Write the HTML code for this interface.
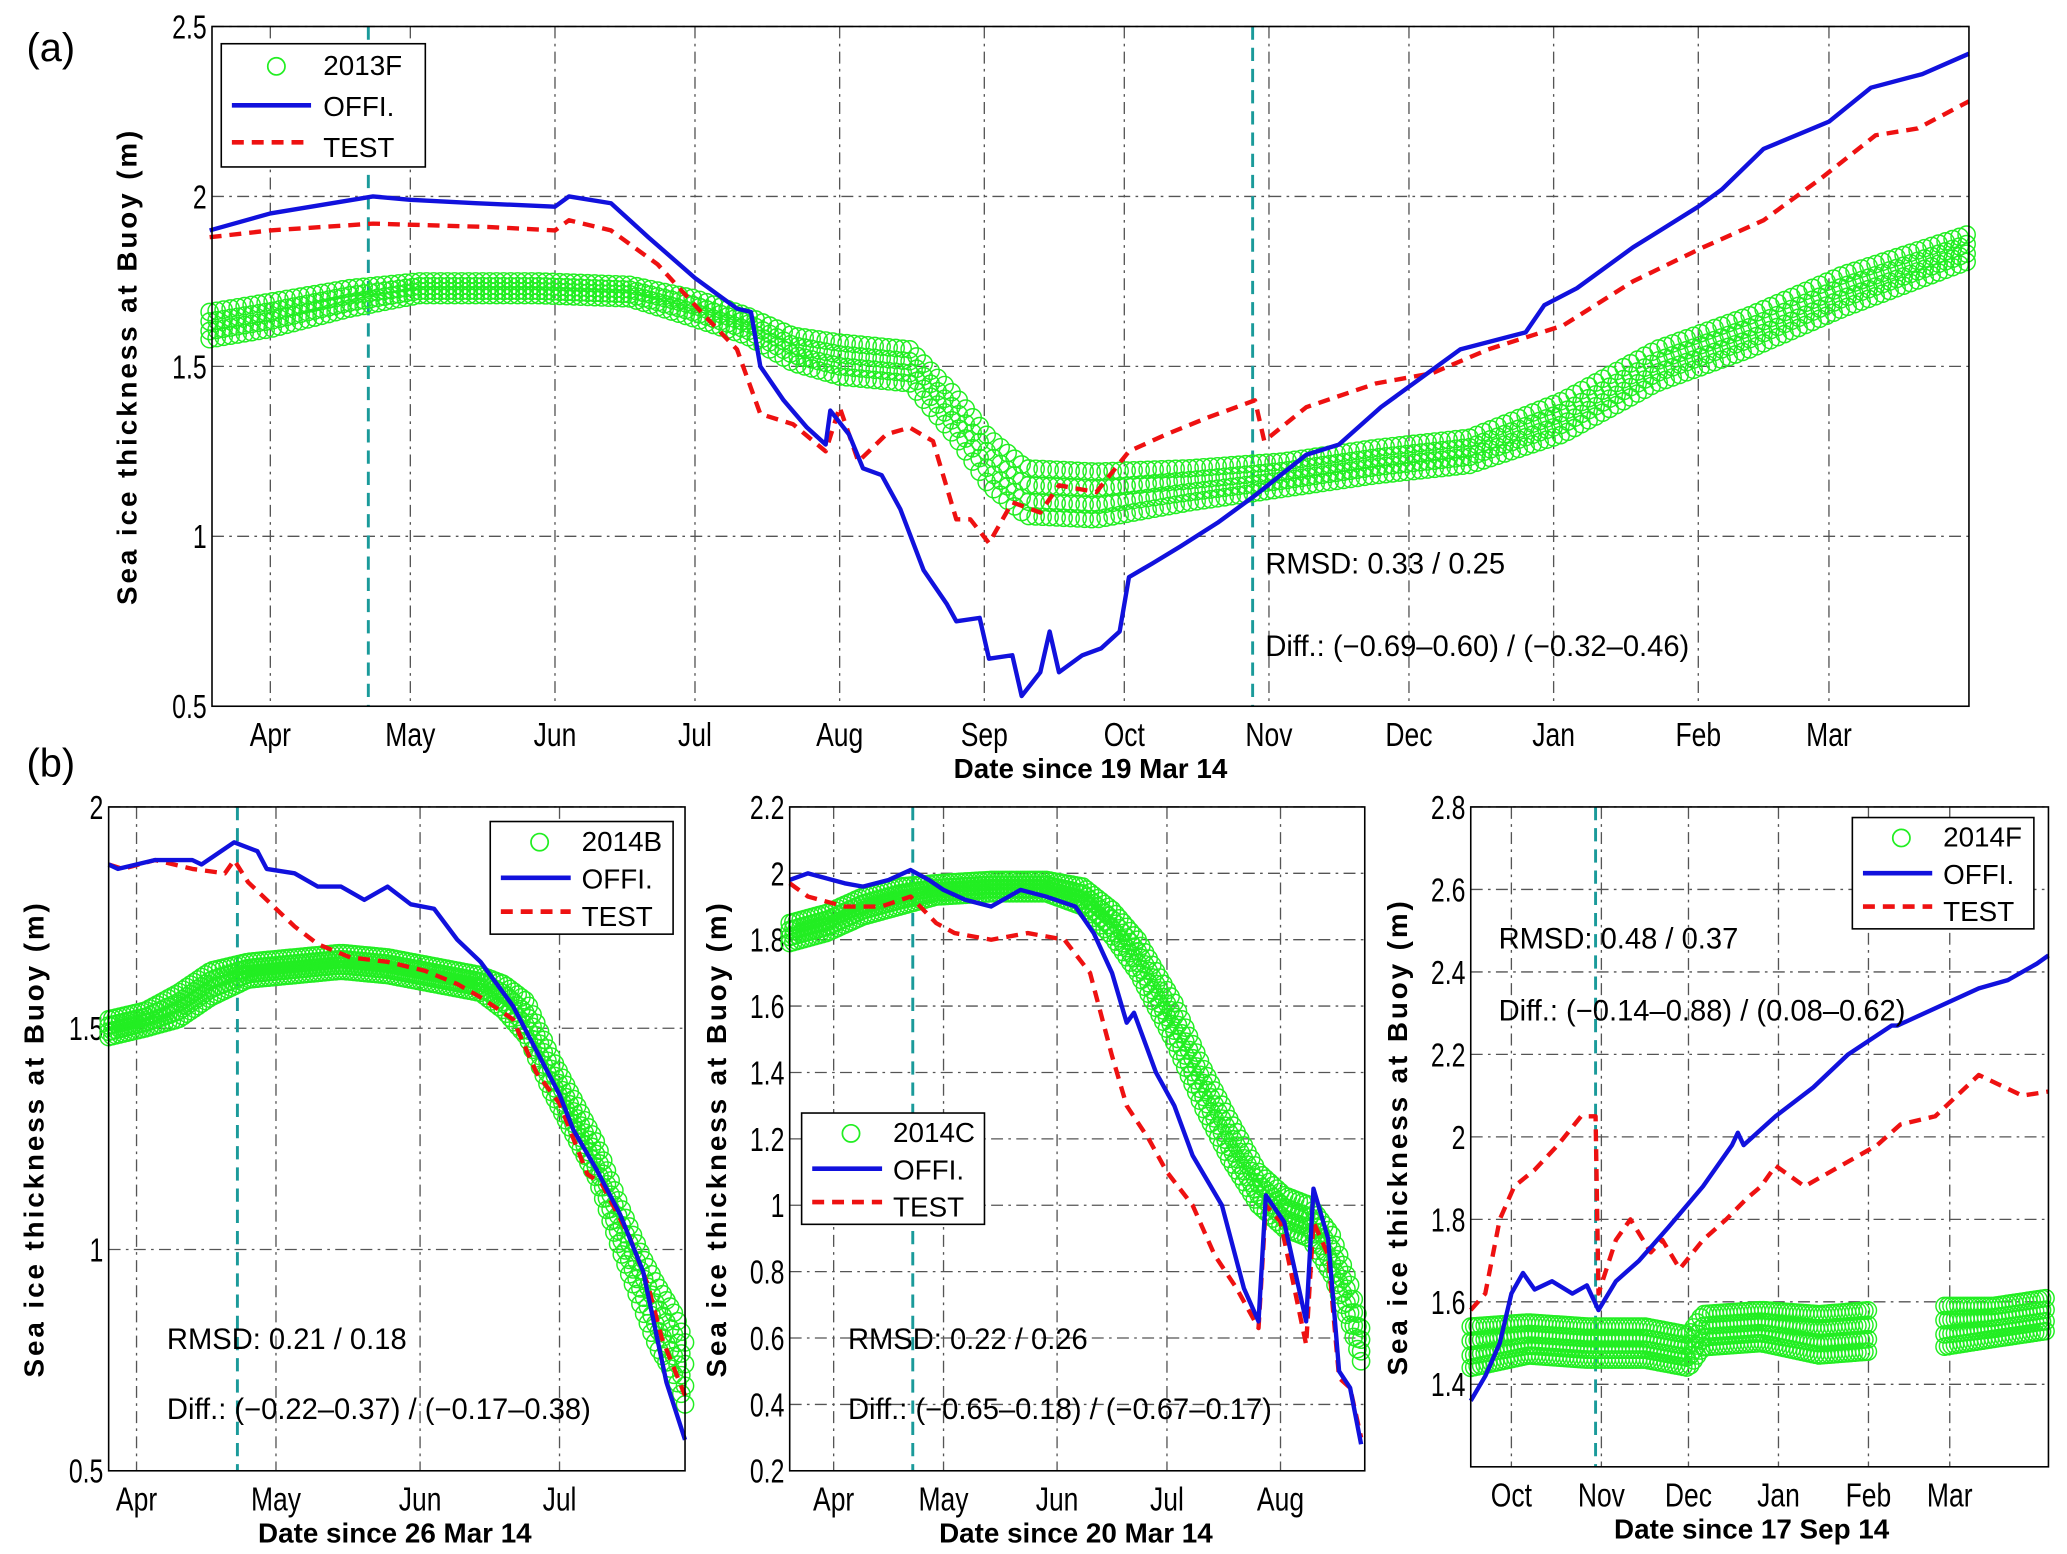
<!DOCTYPE html>
<html><head><meta charset="utf-8">
<style>
html,body{margin:0;padding:0;background:#fff;}
svg{display:block;}
text{font-family:"Liberation Sans",sans-serif;fill:#000;}
</style></head>
<body>
<svg id="fig" width="2067" height="1554" viewBox="0 0 1560 1172.8" preserveAspectRatio="none" xmlns="http://www.w3.org/2000/svg"></svg>
<script>
// ---------- Panel (a) data (day since 19 Mar 14) ----------
const aOffiDays=[0,13,35,43,57,74,77,86,94,104,113,116,118,123,128,132,133,137,140,144,148,153,158,160,165,167,172,174,178,180,182,187,191,195,197,202,208,216,224,235,242,251,257,268,282,286,293,305,319,324,333,347,356,367,377];
const aOffiVals=[1.90,1.95,2.00,1.99,1.98,1.97,2.00,1.98,1.88,1.76,1.67,1.66,1.50,1.40,1.32,1.27,1.37,1.30,1.20,1.18,1.08,0.90,0.80,0.75,0.76,0.64,0.65,0.53,0.60,0.72,0.60,0.65,0.67,0.72,0.88,0.92,0.97,1.04,1.12,1.24,1.27,1.38,1.44,1.55,1.60,1.68,1.73,1.85,1.97,2.02,2.14,2.22,2.32,2.36,2.42];
const aTestDays=[0,13,35,60,74,77,86,96,106,113,118,125,132,135,139,145,150,155,160,163,167,172,178,182,190,197,205,214,224,226,235,250,262,274,290,305,320,333,345,357,366,377];
const aTestVals=[1.88,1.90,1.92,1.91,1.90,1.93,1.90,1.80,1.65,1.55,1.36,1.33,1.25,1.38,1.22,1.30,1.32,1.28,1.05,1.05,0.98,1.10,1.07,1.15,1.13,1.25,1.30,1.35,1.40,1.28,1.38,1.45,1.48,1.55,1.62,1.75,1.85,1.93,2.05,2.18,2.20,2.28];
const aObsDays=[0,13,30,45,70,90,104,115,125,135,150,160,167,175,190,210,230,250,270,290,310,330,350,377];
const aObsVals=[1.62,1.65,1.70,1.73,1.73,1.72,1.67,1.62,1.55,1.52,1.50,1.35,1.22,1.13,1.12,1.15,1.18,1.22,1.25,1.35,1.50,1.60,1.72,1.85];
const aObsSpread=[0.04,0.04,0.03,0.02,0.02,0.02,0.03,0.03,0.04,0.05,0.05,0.06,0.07,0.07,0.07,0.05,0.04,0.04,0.04,0.05,0.05,0.05,0.05,0.04];
const aMonths=["Apr","May","Jun","Jul","Aug","Sep","Oct","Nov","Dec","Jan","Feb","Mar"];
const aMonthDays=[13,43,74,104,135,166,196,227,257,288,319,347];
const aYTicks=[0.5,1,1.5,2,2.5];

// ---------- Panel (b1) data (day since 26 Mar 14) ----------
const b1OffiDays=[0,2,10,18,20,27,32,34,40,45,50,55,60,65,70,75,80,87,92,97,100,105,110,115,118,120,124];
const b1OffiVals=[1.87,1.86,1.88,1.88,1.87,1.92,1.90,1.86,1.85,1.82,1.82,1.79,1.82,1.78,1.77,1.70,1.65,1.55,1.45,1.35,1.27,1.18,1.08,0.95,0.80,0.70,0.57];
const b1TestDays=[0,3,10,18,25,27,30,35,40,45,52,60,68,75,80,87,92,97,103,106,112,116,119,124];
const b1TestVals=[1.87,1.86,1.88,1.86,1.85,1.88,1.83,1.78,1.73,1.69,1.66,1.65,1.63,1.60,1.57,1.52,1.40,1.33,1.17,1.15,1.03,0.92,0.80,0.67];
const b1ObsDays=[0,8,15,22,30,40,50,60,70,80,85,90,95,100,105,110,115,118,122,124];
const b1ObsVals=[1.50,1.52,1.55,1.60,1.63,1.64,1.65,1.64,1.62,1.60,1.57,1.52,1.40,1.30,1.20,1.05,0.92,0.85,0.78,0.72];
const b1ObsSpread=[0.02,0.02,0.03,0.03,0.02,0.02,0.02,0.02,0.02,0.02,0.03,0.04,0.04,0.04,0.04,0.05,0.06,0.07,0.07,0.07];
const b1Months=["Apr","May","Jun","Jul"];
const b1MonthDays=[6,36,67,97];
const b1YTicks=[0.5,1,1.5,2];

// ---------- Panel (b2) data (day since 20 Mar 14) ----------
const b2OffiDays=[0,5,15,20,27,33,38,42,48,55,63,70,78,83,88,92,94,100,105,110,118,124,128,130,135,141,143,147,150,153,156];
const b2OffiVals=[1.98,2.00,1.97,1.96,1.98,2.01,1.98,1.95,1.92,1.90,1.95,1.93,1.90,1.82,1.70,1.55,1.58,1.40,1.30,1.15,1.00,0.75,0.65,1.03,0.95,0.65,1.05,0.90,0.50,0.45,0.28];
const b2TestDays=[0,5,15,25,33,40,45,55,65,75,82,88,92,98,103,110,116,122,128,130,134,141,143,147,150,153,156];
const b2TestVals=[1.97,1.93,1.90,1.90,1.93,1.85,1.82,1.80,1.82,1.80,1.70,1.45,1.30,1.20,1.10,1.00,0.85,0.75,0.63,1.00,0.95,0.58,0.95,0.85,0.48,0.45,0.30];
const b2ObsDays=[0,10,20,30,40,55,70,80,88,95,105,113,120,128,135,142,148,153,156];
const b2ObsVals=[1.82,1.85,1.90,1.93,1.95,1.96,1.96,1.93,1.85,1.75,1.55,1.35,1.20,1.05,0.98,0.95,0.85,0.70,0.58];
const b2ObsSpread=[0.03,0.03,0.03,0.03,0.02,0.02,0.02,0.03,0.04,0.05,0.06,0.06,0.06,0.05,0.05,0.05,0.06,0.06,0.05];
const b2Months=["Apr","May","Jun","Jul","Aug"];
const b2MonthDays=[12,42,73,103,134];
const b2YTicks=[0.2,0.4,0.6,0.8,1,1.2,1.4,1.6,1.8,2,2.2];

// ---------- Panel (b3) data (day since 17 Sep 14) ----------
const b3OffiDays=[0,5,10,14,18,22,28,35,40,44,50,58,68,80,90,92,94,105,118,130,145,147,175,185,195,199];
const b3OffiVals=[1.36,1.42,1.50,1.62,1.67,1.63,1.65,1.62,1.64,1.58,1.65,1.70,1.78,1.88,1.98,2.01,1.98,2.05,2.12,2.20,2.27,2.27,2.36,2.38,2.42,2.44];
const b3TestDays=[0,5,10,15,22,30,38,43,44,50,55,62,66,72,80,88,95,100,105,115,125,140,148,160,175,190,199];
const b3TestVals=[1.58,1.62,1.80,1.88,1.92,1.98,2.05,2.05,1.62,1.75,1.80,1.72,1.75,1.68,1.75,1.80,1.85,1.88,1.93,1.88,1.92,1.98,2.03,2.05,2.15,2.10,2.11];
const b3ObsDays=[0,20,40,60,75,80,100,120,138,139,160,162,180,199];
const b3ObsVals=[1.49,1.51,1.50,1.50,1.48,1.53,1.54,1.52,1.53,null,null,1.54,1.55,1.57];
const b3ObsSpread=[0.05,0.04,0.04,0.04,0.04,0.04,0.04,0.05,0.05,0,0,0.05,0.04,0.04];
const b3Months=["Oct","Nov","Dec","Jan","Feb","Mar"];
const b3MonthDays=[14,45,75,106,137,165];
const b3YTicks=[1.4,1.6,1.8,2,2.2,2.4,2.6,2.8];

// ---------- drawing ----------
const NS="http://www.w3.org/2000/svg";
const svg=document.getElementById('fig');
function mk(tag,attrs,parent){const e=document.createElementNS(NS,tag);for(const k in attrs)e.setAttribute(k,attrs[k]);(parent||svg).appendChild(e);return e;}
function txt(s,attrs,parent){const e=mk('text',attrs,parent);e.textContent=s;return e;}
function interp(days,vals,d){for(let i=0;i<days.length-1;i++){if(d>=days[i]&&d<=days[i+1]){if(vals[i]==null||vals[i+1]==null)return null;const t=(d-days[i])/((days[i+1]-days[i])||1);return vals[i]+t*(vals[i+1]-vals[i]);}}return null;}

function panel(cfg){
  const g=mk('g',{});
  
  
  const X=d=>cfg.x0+(d-cfg.d0)/(cfg.d1-cfg.d0)*(cfg.x1-cfg.x0);
  const Y=v=>cfg.y1-(v-cfg.v0)/(cfg.v1-cfg.v0)*(cfg.y1-cfg.y0);
  cfg.yTicks.forEach(v=>{
    const l=mk('line',{x1:cfg.x0,x2:cfg.x1,y1:Y(v),y2:Y(v),stroke:'#555','stroke-width':1,'stroke-dasharray':'9 4 2 4'},g);
    
    
    const t=txt(String(v),{x:cfg.x0-4,y:Y(v)+9,'text-anchor':'end','font-size':25,transform:`translate(${cfg.x0-4},${Y(v)}) scale(0.75,1) translate(${-(cfg.x0-4)},${-Y(v)})`},g);
    
    
  });
  cfg.months.forEach((m,i)=>{
    const x=X(cfg.monthDays[i]);
    const l=mk('line',{x1:x,x2:x,y1:cfg.y0,y2:cfg.y1,stroke:'#555','stroke-width':1,'stroke-dasharray':'9 4 2 4'},g);
    
    
    const t=txt(m,{x:x,y:cfg.y1+30,'text-anchor':'middle','font-size':25,transform:`translate(${x},0) scale(0.8,1) translate(${-x},0)`},g);
    
    
  });
  cfg.teal.forEach(d=>{
    const l=mk('line',{x1:X(d),x2:X(d),y1:cfg.y0,y2:cfg.y1,stroke:'#1a9a9a','stroke-width':2.2,'stroke-dasharray':'10 6'},g);
    
    
  });
  const og=mk('g',{fill:'none',stroke:'#22ee22','stroke-width':1.1},g);
  
  
  const lastD=cfg.obsDays[cfg.obsDays.length-1];
  for(let d=cfg.obsDays[0];d<=lastD;d+=cfg.step){
    const v=interp(cfg.obsDays,cfg.obsVals,d);
    if(v==null)continue;
    const s=interp(cfg.obsDays,cfg.obsSpread,d)||0;
    [-1,-0.4,0.3,1].forEach(k=>{
      const c=mk('circle',{cx:X(d),cy:Y(v+k*s),r:6.5},og);
      
      
    });
  }
  const line=(days,vals,col,dash,name)=>{
    const p=mk('polyline',{points:days.map((d,i)=>X(d)+','+Y(vals[i])).join(' '),fill:'none',stroke:col,'stroke-width':3.3,'stroke-dasharray':dash,'stroke-linejoin':'round'},g);
    
    
  };
  line(cfg.testDays,cfg.testVals,'#ee1111','9 6','test-line');
  line(cfg.offiDays,cfg.offiVals,'#1111dd','none','offi-line');
  const fr=mk('rect',{x:cfg.x0,y:cfg.y0,width:cfg.x1-cfg.x0,height:cfg.y1-cfg.y0,fill:'none',stroke:'#000','stroke-width':1.2},g);
  
  
  const cx=(cfg.x0+cfg.x1)/2;
  const xl=txt(cfg.xlabel,{x:cfg.xlabelX||cx,y:cfg.y1+54,'text-anchor':'middle','font-size':21,'font-weight':'bold'},g);
  
  
  const cy=(cfg.y0+cfg.y1)/2;
  const yl=txt('Sea ice thickness at Buoy (m)',{x:cfg.ylx,y:cy,'text-anchor':'middle','font-size':21,'font-weight':'bold','letter-spacing':2.2,transform:`rotate(-90 ${cfg.ylx} ${cy})`},g);
  
  
  const r1=txt(cfg.rmsd,{x:cfg.statX,y:cfg.statY1,'font-size':22},g);
  
  
  const r2=txt(cfg.diff,{x:cfg.statX,y:cfg.statY2,'font-size':22},g);
  
  
  const L=cfg.leg;
  const lg=mk('g',{},g);
  
  
  mk('rect',{x:L.x,y:L.y,width:L.w,height:L.h,fill:'#fff',stroke:'#000','stroke-width':1.2},lg);
  const rowH=L.h/3;
  const c=mk('circle',{cx:L.x+L.w*0.27,cy:L.y+rowH*0.55,r:6.5,fill:'none',stroke:'#22ee22','stroke-width':1.3},lg);
  
  
  const l1=mk('line',{x1:L.x+8,x2:L.x+L.w*0.44,y1:L.y+rowH*1.5,y2:L.y+rowH*1.5,stroke:'#1111dd','stroke-width':3.5},lg);
  
  
  const l2=mk('line',{x1:L.x+8,x2:L.x+L.w*0.44,y1:L.y+rowH*2.4,y2:L.y+rowH*2.4,stroke:'#ee1111','stroke-width':3.5,'stroke-dasharray':'9 6'},lg);
  
  
  [cfg.buoy,'OFFI.','TEST'].forEach((s,i)=>{
    const t=txt(s,{x:L.x+L.w*0.5,y:L.y+rowH*(i+0.5)+8,'font-size':21},lg);
    
    
  });
}

panel({name:'panel-a',x0:160,x1:1486,y0:20,y1:533,d0:0.5,d1:377,v0:0.5,v1:2.5,
  yTicks:aYTicks,months:aMonths,monthDays:aMonthDays,teal:[34,223.5],
  offiDays:aOffiDays,offiVals:aOffiVals,testDays:aTestDays,testVals:aTestVals,
  obsDays:aObsDays,obsVals:aObsVals,obsSpread:aObsSpread,step:1.5,
  xlabel:'Date since 19 Mar 14',ylx:103,rmsd:'RMSD: 0.33 / 0.25',diff:'Diff.: (\u22120.69\u20130.60) / (\u22120.32\u20130.46)',
  statX:955,statY1:433,statY2:495,buoy:'2013F',leg:{x:167,y:33,w:154,h:93}});
panel({name:'panel-b1',x0:82,x1:517,y0:609,y1:1110,d0:0,d1:124,v0:0.5,v1:2,
  yTicks:b1YTicks,months:b1Months,monthDays:b1MonthDays,teal:[27.7],
  offiDays:b1OffiDays,offiVals:b1OffiVals,testDays:b1TestDays,testVals:b1TestVals,
  obsDays:b1ObsDays,obsVals:b1ObsVals,obsSpread:b1ObsSpread,step:0.8,
  xlabel:'Date since 26  Mar 14',xlabelX:298,ylx:33,rmsd:'RMSD: 0.21 / 0.18',diff:'Diff.: (\u22120.22\u20130.37) / (\u22120.17\u20130.38)',
  statX:126,statY1:1018,statY2:1071,buoy:'2014B',leg:{x:370,y:620,w:138,h:85}});
panel({name:'panel-b2',x0:596,x1:1030,y0:609,y1:1110,d0:0,d1:157,v0:0.2,v1:2.2,
  yTicks:b2YTicks,months:b2Months,monthDays:b2MonthDays,teal:[33.6],
  offiDays:b2OffiDays,offiVals:b2OffiVals,testDays:b2TestDays,testVals:b2TestVals,
  obsDays:b2ObsDays,obsVals:b2ObsVals,obsSpread:b2ObsSpread,step:1,
  xlabel:'Date since 20  Mar 14',xlabelX:812,ylx:548,rmsd:'RMSD: 0.22 / 0.26',diff:'Diff.: (\u22120.65\u20130.18) / (\u22120.67\u20130.17)',
  statX:640,statY1:1018,statY2:1071,buoy:'2014C',leg:{x:605,y:840,w:138,h:84}});
panel({name:'panel-b3',x0:1110,x1:1546,y0:609,y1:1107,d0:0,d1:199,v0:1.2,v1:2.8,
  yTicks:b3YTicks,months:b3Months,monthDays:b3MonthDays,teal:[43],
  offiDays:b3OffiDays,offiVals:b3OffiVals,testDays:b3TestDays,testVals:b3TestVals,
  obsDays:b3ObsDays,obsVals:b3ObsVals,obsSpread:b3ObsSpread,step:1.2,
  xlabel:'Date since 17 Sep 14',xlabelX:1322,ylx:1062,rmsd:'RMSD: 0.48 / 0.37',diff:'Diff.: (\u22120.14\u20130.88) / (0.08\u20130.62)',
  statX:1131,statY1:716,statY2:770,buoy:'2014F',leg:{x:1398,y:617,w:137,h:84}});

const pa=txt('(a)',{x:20,y:46,'font-size':30});


const pb=txt('(b)',{x:20,y:586,'font-size':30});


</script>
</body></html>
